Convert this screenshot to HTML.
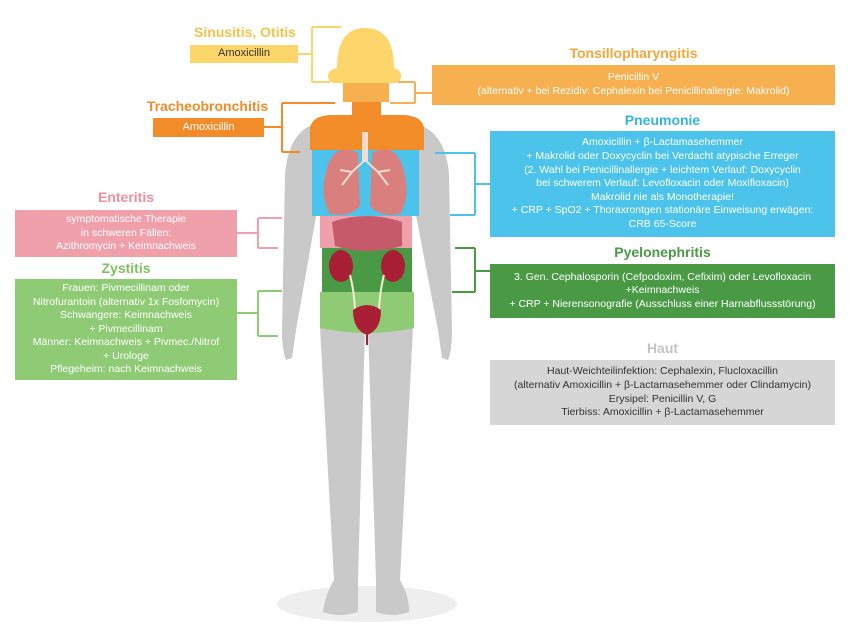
<!DOCTYPE html>
<html><head><meta charset="utf-8"><style>
body{margin:0;background:#fff;width:854px;height:637px;overflow:hidden;font-family:"Liberation Sans",sans-serif;position:relative}
.t{position:absolute;font-weight:bold;font-size:14px;text-align:center;white-space:nowrap}
.b{position:absolute;color:#fff;font-size:10.5px;line-height:13.6px;text-align:center;display:flex;flex-direction:column;justify-content:center;box-sizing:border-box}
</style></head><body>
<svg width="854" height="637" style="position:absolute;left:0;top:0">
<ellipse cx="367" cy="604" rx="90" ry="18" fill="#eeeeee"/>
<path d="M312 125 Q288 135 285 175 L282 330 Q282 350 286 360 L292 358 L296 330 L318 205 Z" fill="#c9c9c9"/>
<path d="M420 125 Q446 135 449 175 L452 330 Q452 350 448 360 L442 358 L438 330 L414 205 Z" fill="#c9c9c9"/>
<path d="M320 328 L365 328 L358 580 L358 612 Q340 618 323 612 Q325 595 334 580 Z" fill="#c9c9c9"/>
<path d="M368 328 L413 328 L400 580 Q410 598 409 612 Q392 618 376 612 L376 580 Z" fill="#c9c9c9"/>
<path d="M310 150 L310 128 Q312 116 330 115 L404 115 Q422 116 424 128 L424 150 Z" fill="#f28c28"/>
<rect x="352" y="100" width="29" height="20" fill="#f28c28"/>
<rect x="312" y="150" width="107" height="66" fill="#4cc3ea"/>
<rect x="320" y="216" width="92" height="32" fill="#f0a0ab"/>
<rect x="322" y="248" width="90" height="44" fill="#4a9a45"/>
<path d="M320 292 L414 292 L414 328 Q367 338 320 328 Z" fill="#8fcb74"/>
<rect x="343" y="80" width="46" height="22" fill="#f6b04f"/>
<path d="M337 68 Q337 28 365 28 Q394 28 394 68 Q401 70 401 76 Q401 83 394 83 L336 83 Q328 83 328 76 Q328 70 337 68 Z" fill="#fcd56b"/>
<rect x="362" y="132" width="6" height="30" fill="#f4dcd0"/>
<path d="M358 153 Q336 142 328 165 Q318 195 330 214 Q350 218 360 206 Z" fill="#d9807f"/>
<path d="M372 153 Q394 142 402 165 Q412 195 400 214 Q380 218 370 206 Z" fill="#d9807f"/>
<path d="M365 160 L352 172 L342 185 M352 172 L340 170 M365 160 L378 172 L388 185 M378 172 L390 170" stroke="#f4dcd0" stroke-width="2" fill="none"/>
<path d="M332 222 Q367 210 402 222 L402 246 Q367 256 335 246 Z" fill="#c45a6a"/>
<ellipse cx="341" cy="266" rx="12" ry="16" fill="#a81f36"/>
<ellipse cx="393" cy="266" rx="12" ry="16" fill="#a81f36"/>
<path d="M350 275 Q354 290 355 310 M384 275 Q380 290 379 310" stroke="#f4f0d0" stroke-width="2" fill="none"/>
<path d="M353 310 Q367 300 381 310 Q381 330 367 335 Q353 330 353 310 Z" fill="#a81f36"/>
<rect x="366" y="333" width="2" height="12" fill="#a81f36"/>
<g fill="none" stroke-width="2">
<path d="M298 54 L312 54 M312 27 L312 82 M312 27 L341 27 M312 82 L330 82" stroke="#fcd56b"/>
<path d="M432 93 L415 93 M415 82 L415 103 M415 82 L398 82 M415 103 L390 103" stroke="#f6b04f"/>
<path d="M264 127 L282 127 M282 103 L282 152 M282 103 L335 103 M282 152 L300 152" stroke="#f28c28"/>
<path d="M490 184 L475 184 M475 153 L475 215 M475 153 L435 153 M475 215 L450 215" stroke="#4cc3ea"/>
<path d="M490 271 L475 271 M475 248 L475 292 M475 248 L455 248 M475 292 L452 292" stroke="#4a9a45"/>
<path d="M237 233 L258 233 M258 218 L258 248 M258 218 L282 218 M258 248 L278 248" stroke="#f0a0ab"/>
<path d="M237 313 L258 313 M258 291 L258 336 M258 291 L282 291 M258 336 L278 336" stroke="#8fcb74"/>
</g>
</svg>
<div class="t" style="left:190px;top:24px;width:110px;color:#f5c34b">Sinusitis, Otitis</div>
<div class="b" style="left:190px;top:45px;width:108px;height:18px;background:#fcd56b;color:#333;font-size:11px">Amoxicillin</div>
<div class="t" style="left:432px;top:45px;width:403px;color:#f6a73a">Tonsillopharyngitis</div>
<div class="b" style="left:432px;top:65px;width:403px;height:40px;background:#f6b04f">Penicillin V<br>(alternativ + bei Rezidiv: Cephalexin bei Penicillinallergie: Makrolid)</div>
<div class="t" style="left:140px;top:98px;width:135px;color:#f28c28">Tracheobronchitis</div>
<div class="b" style="left:153px;top:118px;width:111px;height:19px;background:#f28c28;font-size:11px">Amoxicillin</div>
<div class="t" style="left:490px;top:112px;width:345px;color:#35b4e0">Pneumonie</div>
<div class="b" style="left:490px;top:131px;width:345px;height:106px;background:#4cc3ea">Amoxicillin + β-Lactamasehemmer<br>+ Makrolid oder Doxycyclin bei Verdacht atypische Erreger<br>(2. Wahl bei Penicillinallergie + leichtem Verlauf: Doxycyclin<br>bei schwerem Verlauf: Levofloxacin oder Moxifloxacin)<br>Makrolid nie als Monotherapie!<br>+ CRP + SpO2 + Thoraxrontgen stationäre Einweisung erwägen:<br>CRB 65-Score</div>
<div class="t" style="left:15px;top:189px;width:222px;color:#ee8f9c">Enteritis</div>
<div class="b" style="left:15px;top:210px;width:222px;height:47px;background:#f0a0ab">symptomatische Therapie<br>in schweren Fällen:<br>Azithromycin + Keimnachweis</div>
<div class="t" style="left:15px;top:260px;width:222px;color:#7fc062">Zystitis</div>
<div class="b" style="left:15px;top:279px;width:222px;height:101px;background:#8fcb74">Frauen: Pivmecillinam oder<br>Nitrofurantoin (alternativ 1x Fosfomycin)<br>Schwangere: Keimnachweis<br>+ Pivmecillinam<br>Männer: Keimnachweis + Pivmec./Nitrof<br>+ Urologe<br>Pflegeheim: nach Keimnachweis</div>
<div class="t" style="left:490px;top:244px;width:345px;color:#4a9a45">Pyelonephritis</div>
<div class="b" style="left:490px;top:264px;width:345px;height:54px;background:#4a9a45">3. Gen. Cephalosporin (Cefpodoxim, Cefixim) oder Levofloxacin<br>+Keimnachweis<br>+ CRP + Nierensonografie (Ausschluss einer Harnabflussstörung)</div>
<div class="t" style="left:490px;top:340px;width:345px;color:#c4c4c4">Haut</div>
<div class="b" style="left:490px;top:360px;width:345px;height:65px;background:#d6d6d6;color:#333">Haut-Weichteilinfektion: Cephalexin, Flucloxacillin<br>(alternativ Amoxicillin + β-Lactamasehemmer oder Clindamycin)<br>Erysipel: Penicillin V, G<br>Tierbiss: Amoxicillin + β-Lactamasehemmer</div>
</body></html>
